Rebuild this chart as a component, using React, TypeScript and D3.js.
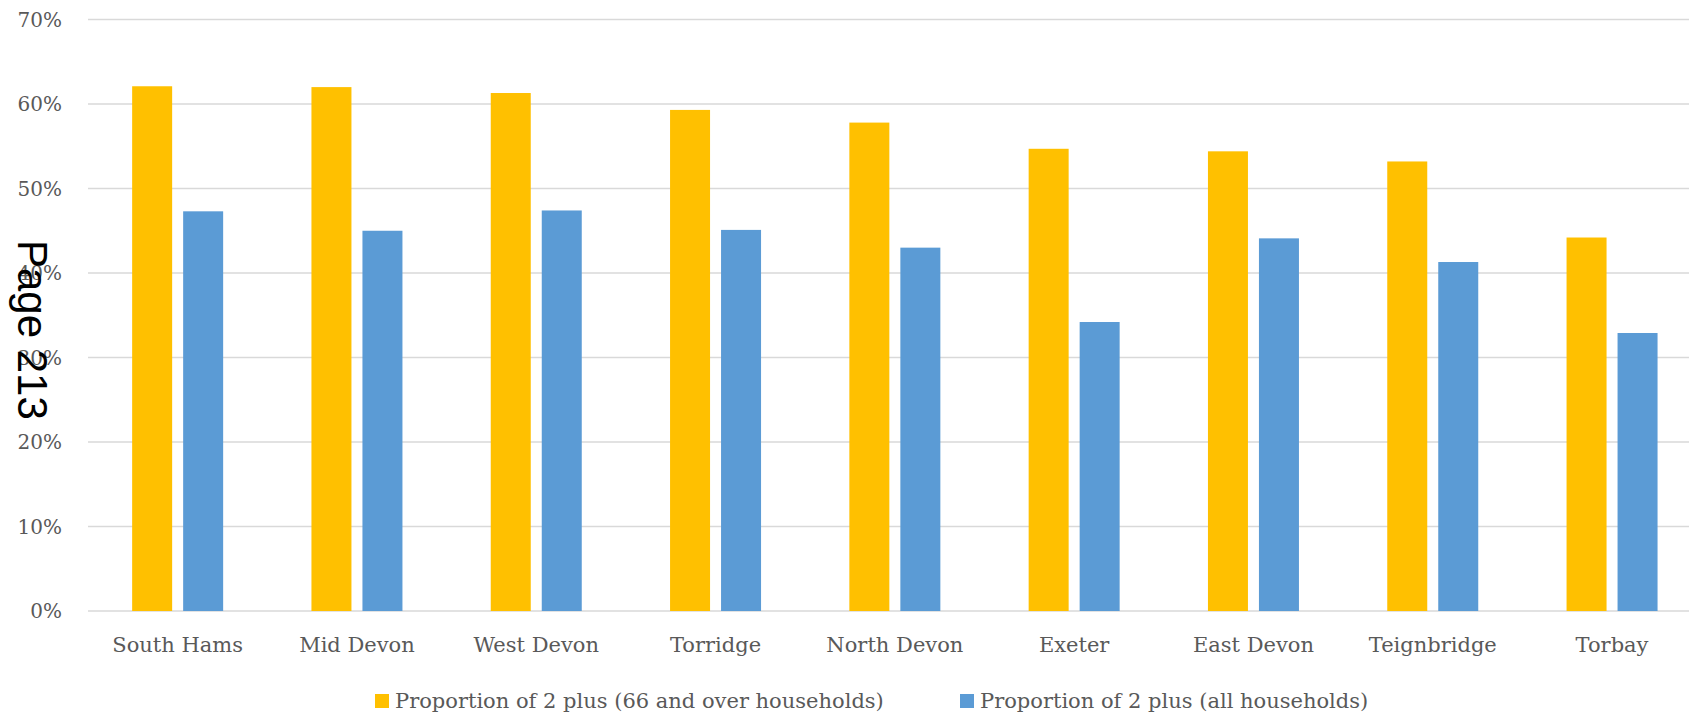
import React from "react";
import * as d3 from "d3";

const categories = ["South Hams", "Mid Devon", "West Devon", "Torridge", "North Devon", "Exeter", "East Devon", "Teignbridge", "Torbay"];
const seriesNames = ["Proportion of 2 plus (66 and over households)", "Proportion of 2 plus (all households)"];
const olderHouseholds = [62.1, 62.0, 61.3, 59.3, 57.8, 54.7, 54.4, 53.2, 44.2];
const allHouseholds = [47.3, 45.0, 47.4, 45.1, 43.0, 34.2, 44.1, 41.3, 32.9];
const yTicks = [0, 10, 20, 30, 40, 50, 60, 70];
const colors = ["#FFC000", "#5B9BD5"];

const W = 1689;
const H = 715;
const plotLeft = 88;
const bandStep = 179.3;
const y0 = 611;
const y70 = 19.5;

export default function App() {
  const x = d3.scaleBand<string>().domain(categories).range([plotLeft, plotLeft + bandStep * categories.length]).padding(0);
  const groupW = 91;
  const x1 = d3.scaleBand<string>().domain(seriesNames).range([0, groupW]).paddingInner(0.2157).paddingOuter(0);
  const y = d3.scaleLinear().domain([0, 70]).range([y0, y70]);
  const values = [olderHouseholds, allHouseholds];
  const font = "'DejaVu Serif', serif";

  return (
    <svg width={W} height={H} style={{ position: "absolute", left: 0, top: 0, background: "#fff" }}>
      {yTicks.map((t) => (
        <g key={t}>
          <line x1={plotLeft} x2={W} y1={y(t)} y2={y(t)} stroke="#D9D9D9" strokeWidth={1.6} />
          <text x={62} y={y(t)} dy="0.36em" textAnchor="end" fontFamily={font} fontSize={20} fill="#595959">
            {t}%
          </text>
        </g>
      ))}
      {categories.map((c, i) => (
        <g key={c} transform={`translate(${(x(c) as number) + (x.bandwidth() - groupW) / 2},0)`}>
          {seriesNames.map((s, k) => (
            <rect
              key={s}
              x={x1(s) as number}
              width={x1.bandwidth()}
              y={y(values[k][i])}
              height={y0 - y(values[k][i])}
              fill={colors[k]}
            />
          ))}
        </g>
      ))}
      {categories.map((c) => (
        <text key={c} x={(x(c) as number) + x.bandwidth() / 2} y={652} textAnchor="middle" fontFamily={font} fontSize={21} fill="#595959">
          {c}
        </text>
      ))}
      <g>
        <rect x={375} y={694} width={14} height={14} fill={colors[0]} />
        <text x={395} y={708} fontFamily={font} fontSize={21} fill="#595959">{seriesNames[0]}</text>
        <rect x={960} y={694} width={14} height={14} fill={colors[1]} />
        <text x={980} y={708} fontFamily={font} fontSize={21} fill="#595959">{seriesNames[1]}</text>
      </g>
      <text transform="translate(18,240) rotate(90)" fontFamily="'Liberation Sans', Arial, sans-serif" fontSize={42} fill="#000">
        Page 213
      </text>
    </svg>
  );
}
